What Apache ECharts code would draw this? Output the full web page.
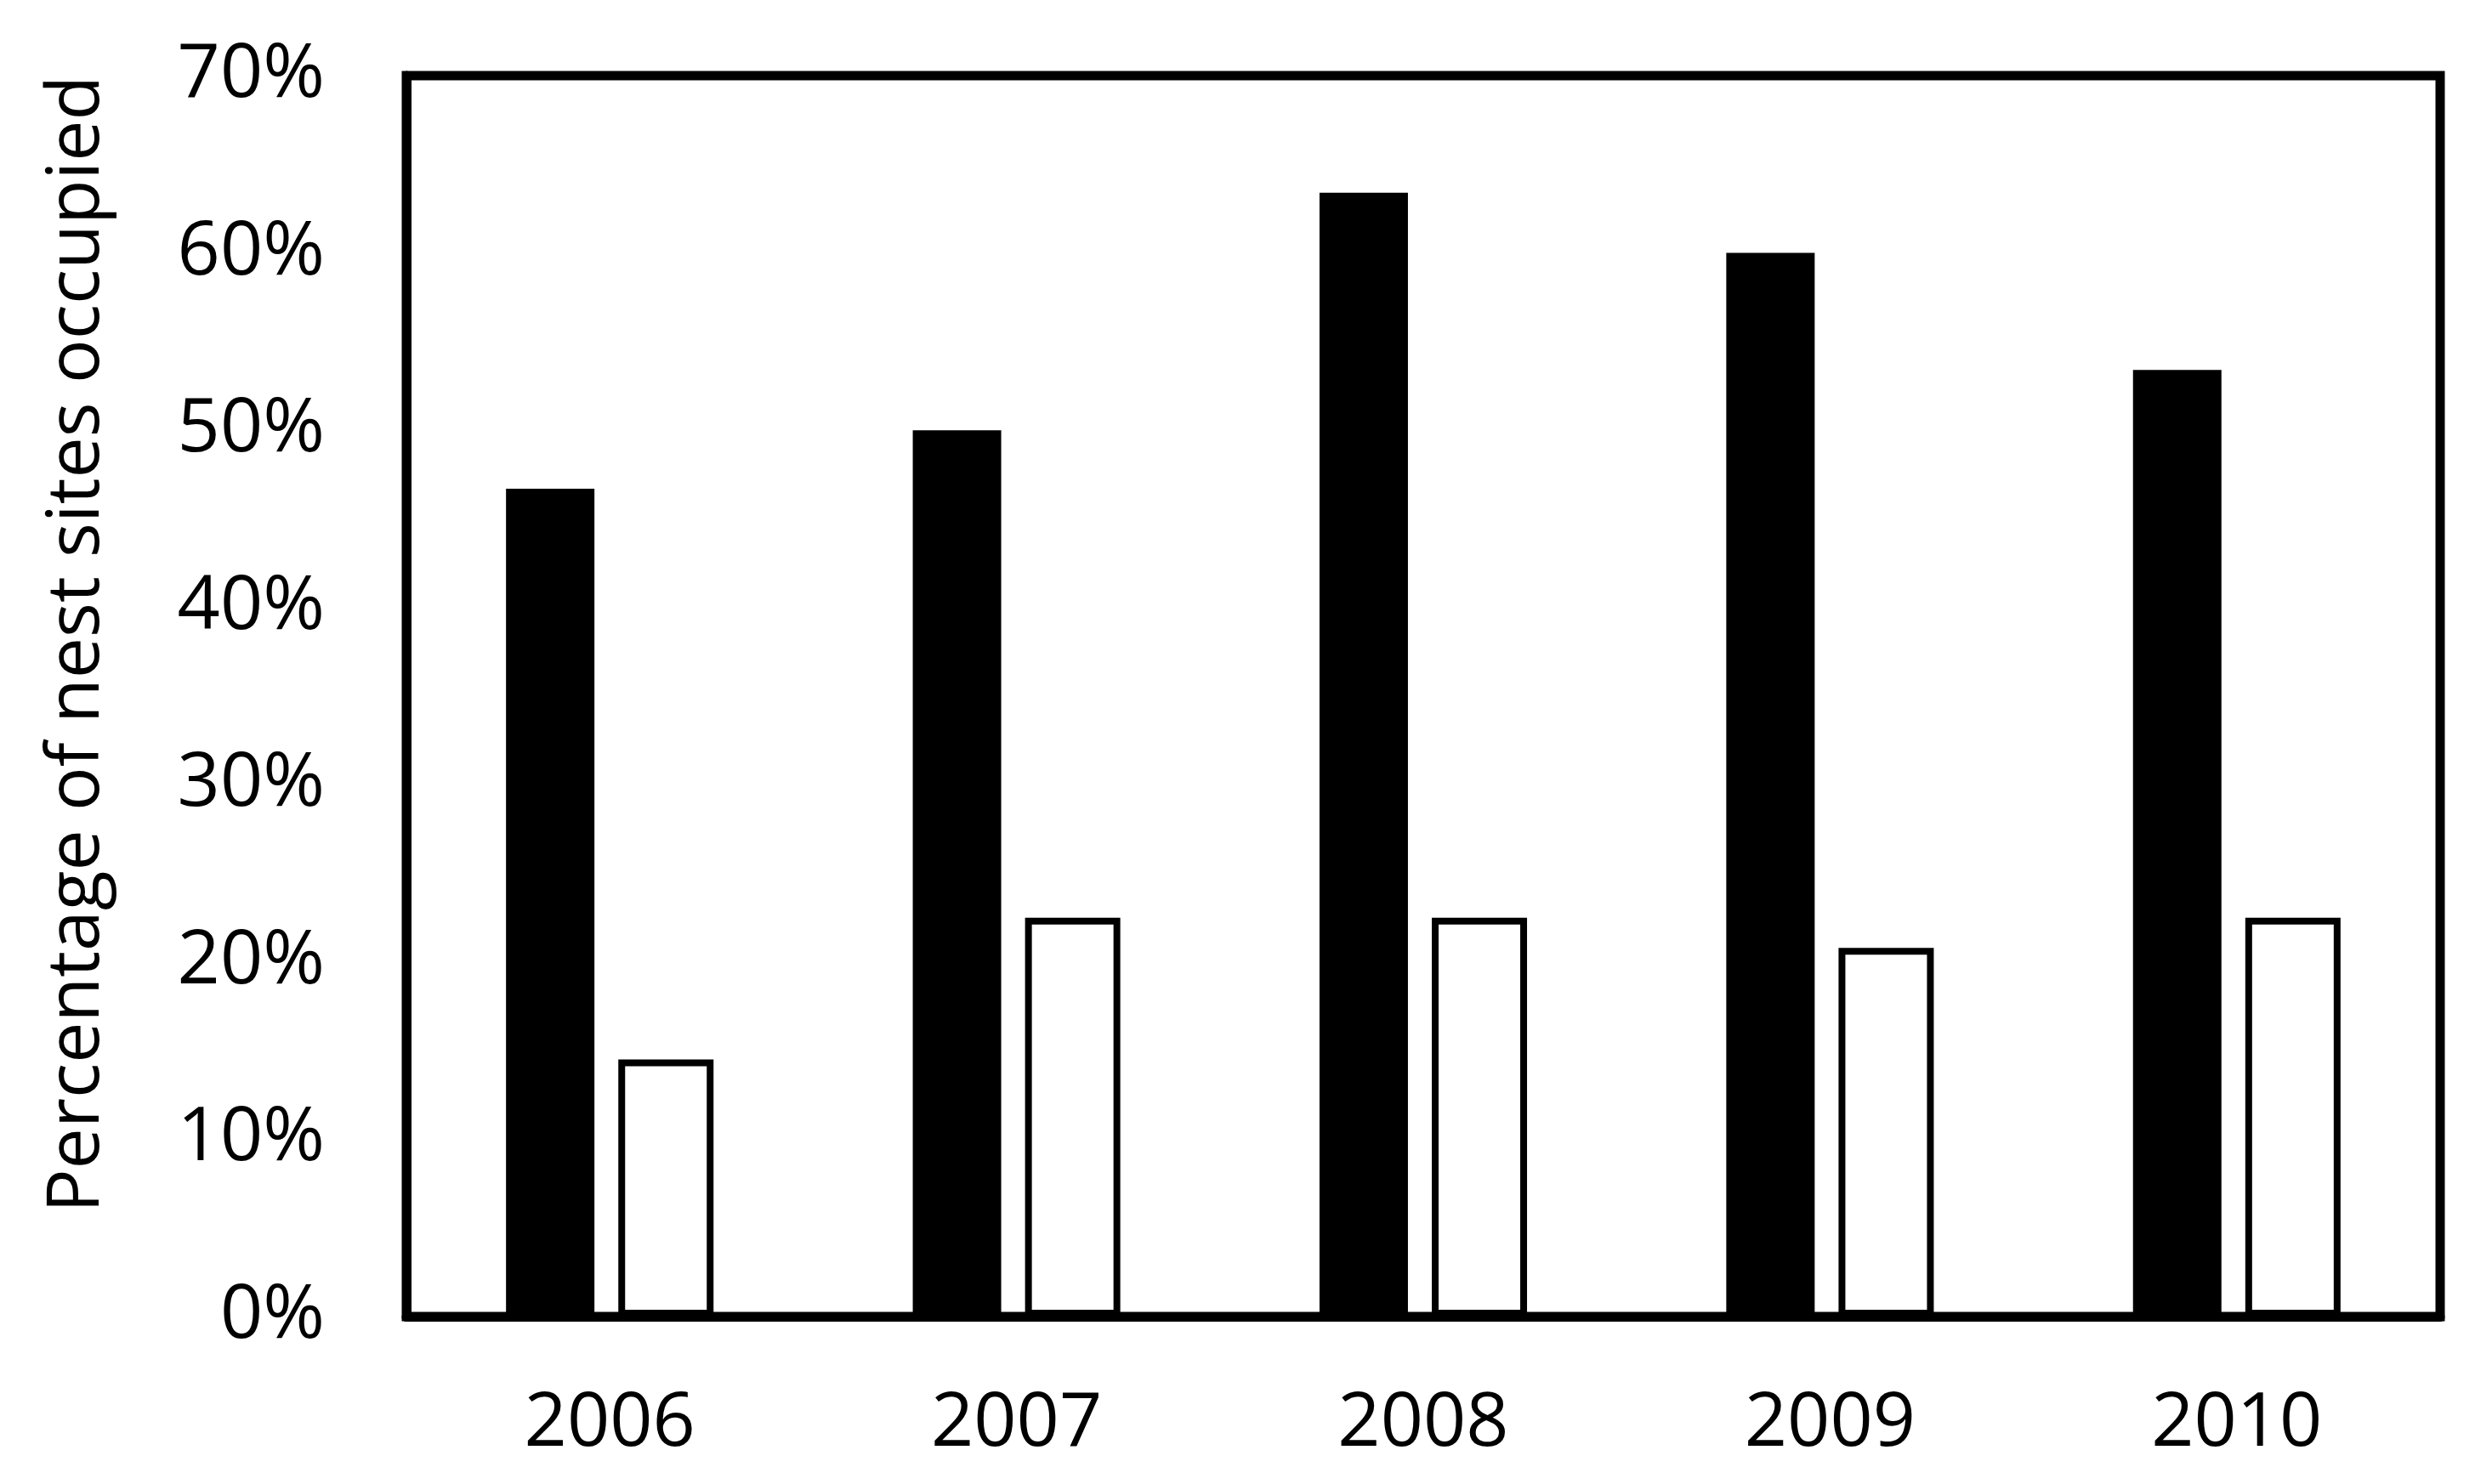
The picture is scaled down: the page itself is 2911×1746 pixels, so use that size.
<!DOCTYPE html>
<html>
<head>
<meta charset="utf-8">
<script src="https://cdn.jsdelivr.net/npm/echarts@6/dist/echarts.min.js"></script>
<style>
  html, body { margin: 0; padding: 0; background: #fff; }
  #chart { width: 2911px; height: 1746px; }
</style>
</head>
<body>
<div id="chart"></div>
<script>
const years = ['2006', '2007', '2008', '2009', '2010'];
const occupiedBlack = [46.7, 50.0, 63.4, 60.0, 53.4];
const occupiedWhite = [14.5, 22.5, 22.5, 20.8, 22.5];
const yTicks = { min: 0, max: 70, interval: 10 };
const yTitle = 'Percentage of nest sites occupied';

const FONT = '"Open Sans", "Noto Sans", sans-serif';
const chart = echarts.init(document.getElementById('chart'), null, { renderer: 'canvas' });
chart.setOption({
  backgroundColor: '#fff',
  animation: false,
  grid: {
    left: 478, right: 41, top: 89, bottom: 197,
    show: true, borderColor: '#000', borderWidth: 11, backgroundColor: 'transparent'
  },
  xAxis: {
    type: 'category',
    data: years,
    axisLine: { show: true, lineStyle: { color: '#000', width: 11 } },
    axisTick: { show: false },
    axisLabel: { color: '#000', fontFamily: FONT, fontSize: 88, margin: 83 },
    splitLine: { show: false }
  },
  yAxis: {
    type: 'value',
    min: yTicks.min, max: yTicks.max, interval: yTicks.interval,
    name: yTitle,
    nameLocation: 'middle',
    nameRotate: 90,
    nameGap: 344,
    nameTextStyle: { color: '#000', fontFamily: FONT, fontSize: 86, padding: [0, 0, 0, 122] },
    axisLine: { show: true, lineStyle: { color: '#000', width: 11 } },
    axisTick: { show: false },
    axisLabel: { color: '#000', fontFamily: FONT, fontSize: 88, margin: 96, formatter: '{value}%' },
    splitLine: { show: false }
  },
  series: [
    {
      type: 'bar',
      data: occupiedBlack,
      barWidth: 104,
      barGap: '27%',
      itemStyle: { color: '#000' }
    },
    {
      type: 'bar',
      data: occupiedWhite,
      barWidth: 112,
      itemStyle: { color: '#fff', borderColor: '#000', borderWidth: 8 }
    }
  ]
});
</script>
</body>
</html>
